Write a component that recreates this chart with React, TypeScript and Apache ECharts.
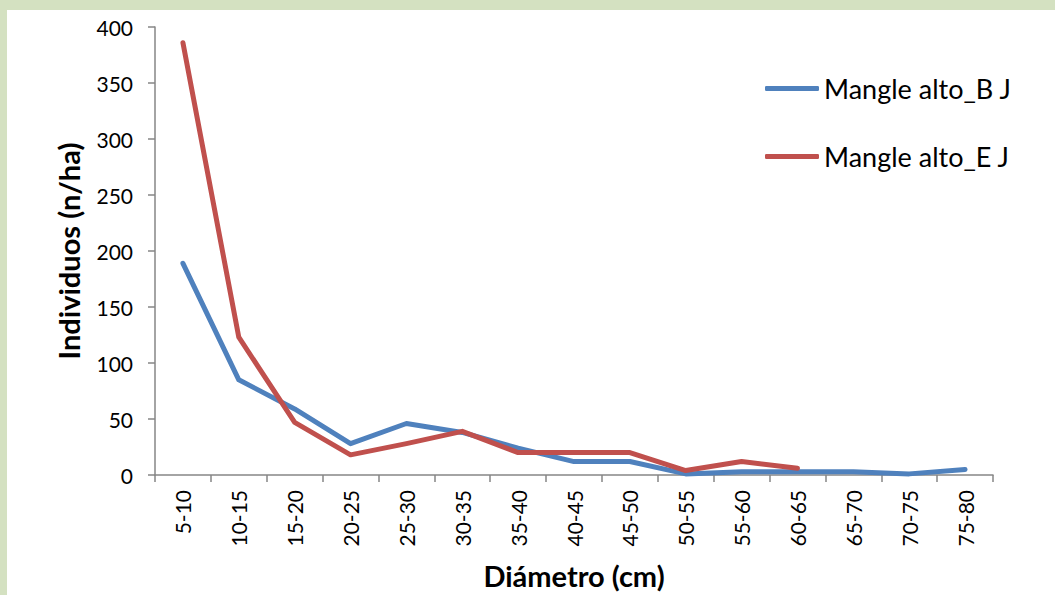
import React, { useEffect, useRef } from "react";
import * as echarts from "echarts";

// Diameter classes (cm)
const categories = [
  "5-10", "10-15", "15-20", "20-25", "25-30", "30-35", "35-40", "40-45",
  "45-50", "50-55", "55-60", "60-65", "65-70", "70-75", "75-80",
];

// Individuals per hectare for each diameter class
const mangleAltoBJ = [189, 85, 59, 28, 46, 38, 24, 12, 12, 1, 3, 3, 3, 1, 5];
const mangleAltoEJ = [386, 123, 47, 18, 28, 39, 20, 20, 20, 4, 12, 6];

const yTicks = { min: 0, max: 400, interval: 50 };

const FONT = "Lato, 'Open Sans', sans-serif";

export default function App() {
  const ref = useRef<HTMLDivElement>(null);

  useEffect(() => {
    if (!ref.current) return;
    const chart = echarts.init(ref.current, undefined, { renderer: "svg" });
    chart.setOption({
      animation: false,
      backgroundColor: "transparent",
      textStyle: { fontFamily: FONT },
      grid: { left: 155, top: 27, width: 838, height: 448, containLabel: false },
      legend: {
        orient: "vertical",
        left: 760,
        top: 70,
        itemWidth: 54,
        itemHeight: 5,
        itemGap: 41,
        icon: "roundRect",
        textStyle: { fontSize: 27, color: "#000", fontFamily: FONT },
        data: ["Mangle alto_B J", "Mangle alto_E J"],
      },
      xAxis: {
        type: "category",
        data: categories,
        boundaryGap: true,
        name: "Diámetro (cm)",
        nameLocation: "middle",
        nameGap: 86,
        nameTextStyle: { fontSize: 29, fontWeight: "bold", color: "#000", fontFamily: FONT },
        axisLine: { lineStyle: { color: "#868686", width: 1.5 } },
        axisTick: { show: true, length: 7, lineStyle: { color: "#868686", width: 1.5 } },
        axisLabel: { rotate: 90, margin: 15, fontSize: 21, color: "#000", fontFamily: FONT },
        splitLine: { show: false },
      },
      yAxis: {
        type: "value",
        min: yTicks.min,
        max: yTicks.max,
        interval: yTicks.interval,
        name: "Individuos (n/ha)",
        nameLocation: "middle",
        nameGap: 72,
        nameTextStyle: { fontSize: 29, fontWeight: "bold", color: "#000", fontFamily: FONT },
        axisLine: { show: true, lineStyle: { color: "#868686", width: 1.5 } },
        axisTick: { show: true, length: 7, lineStyle: { color: "#868686", width: 1.5 } },
        axisLabel: { margin: 22, fontSize: 21, color: "#000", fontFamily: FONT },
        splitLine: { show: false },
      },
      series: [
        {
          name: "Mangle alto_B J",
          type: "line",
          data: mangleAltoBJ,
          symbol: "none",
          color: "#4f81bd",
          lineStyle: { width: 5, color: "#4f81bd", cap: "round", join: "round" },
        },
        {
          name: "Mangle alto_E J",
          type: "line",
          data: mangleAltoEJ,
          symbol: "none",
          color: "#c0504d",
          lineStyle: { width: 5, color: "#c0504d", cap: "round", join: "round" },
        },
      ],
    });
    return () => chart.dispose();
  }, []);

  return (
    <div
      style={{
        position: "fixed",
        left: 0,
        top: 0,
        width: 1055,
        height: 595,
        background: "#d4e1c1",
        overflow: "hidden",
      }}
    >
      <div
        style={{
          position: "absolute",
          left: 7,
          top: 10,
          width: 1048,
          height: 585,
          background: "#ffffff",
        }}
      />
      <div
        ref={ref}
        style={{ position: "absolute", left: 0, top: 0, width: 1055, height: 595 }}
      />
    </div>
  );
}
